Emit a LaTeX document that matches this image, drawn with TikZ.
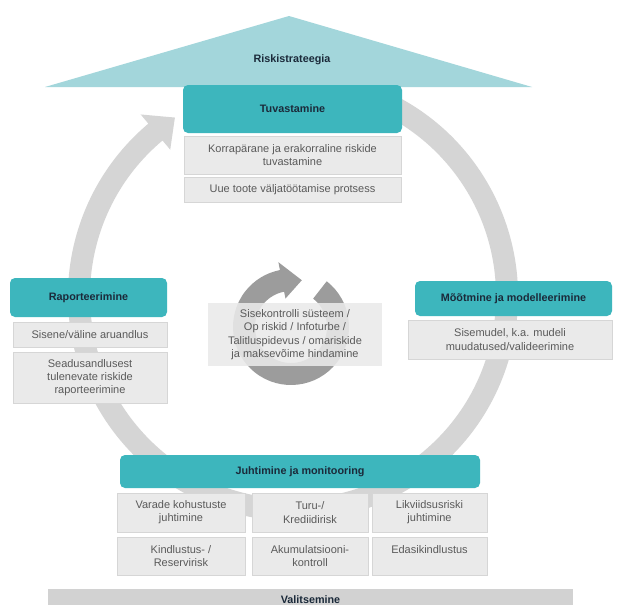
\documentclass[tikz,border=0pt]{standalone}
\usepackage{fontspec}
\setmainfont{Liberation Sans}
\usetikzlibrary{calc}
\definecolor{tealbox}{HTML}{3DB6BD}
\definecolor{tealtri}{HTML}{A3D6DB}
\definecolor{titletext}{HTML}{1B2A3A}
\definecolor{subtext}{HTML}{5A5A5A}
\definecolor{subfill}{HTML}{EAEAEA}
\definecolor{subline}{HTML}{D6D6D6}
\definecolor{arcgray}{HTML}{D5D5D5}
\definecolor{icongray}{HTML}{9C9C9C}
\definecolor{govfill}{HTML}{D2D2D2}
\begin{document}
\begin{tikzpicture}[x=1pt,y=-1pt,
  titlebox/.style={fill=tealbox, rounded corners=5pt, inner sep=0pt, text=titletext,
    font=\fontsize{10.8}{12}\selectfont\bfseries, align=center},
  subbox/.style={fill=subfill, draw=subline, line width=0.4pt, inner sep=0pt, text=subtext,
    font=\fontsize{11}{13.2}\selectfont, align=center}]
\useasboundingbox (0,0) rectangle (619,605);
\fill[white] (0,0) rectangle (619,605);

% big cycle arrow
\coordinate (C) at (293,296);
\fill[arcgray] ($(C)+(-70:225)$) arc[start angle=-70,end angle=230,radius=225]
  -- ($(C)+(230:237)$) -- ($(C)+(236.5:214)$) -- ($(C)+(230:191)$)
  -- ($(C)+(230:203)$) arc[start angle=230,end angle=-70,radius=203] -- cycle;

% roof
\coordinate (apex) at (289,16);
\coordinate (bl) at (45,87);
\coordinate (br) at (532,87);
\fill[tealtri] (bl) -- (apex) -- (br) -- cycle;
\node[text=titletext, font=\fontsize{10.8}{12}\selectfont\bfseries] (roof) at (292,60) {Riskistrateegia};

% top: Tuvastamine
\node[titlebox, minimum width=219, minimum height=48] (tuv) at (292.5,109) {Tuvastamine};
\node[subbox, minimum width=217, minimum height=38] (tuv1) at (292.5,155) {Korrapärane ja erakorraline riskide\\tuvastamine};
\node[subbox, minimum width=217, minimum height=25] (tuv2) at (292.5,189.5) {Uue toote väljatöötamise protsess};

% left: Raporteerimine
\node[titlebox, minimum width=157, minimum height=39] (rap) at (88.5,297.5) {Raporteerimine};
\node[subbox, minimum width=154, minimum height=25] (rap1) at (90,334.5) {Sisene/väline aruandlus};
\node[subbox, minimum width=154, minimum height=51] (rap2) at (90,377.5) {Seadusandlusest\\tulenevate riskide\\raporteerimine};

% right: Mõõtmine
\node[titlebox, minimum width=197, minimum height=35] (mod) at (513.5,298.5) {Mõõtmine ja modelleerimine};
\node[subbox, minimum width=204, minimum height=39] (mod1) at (510,339.5) {Sisemudel, k.a. mudeli\\muudatused/valideerimine};

% centre icon
\coordinate (I) at (291,327);
\fill[icongray] ($(I)+(-52:58)$) arc[start angle=-52,end angle=259,radius=58]
  -- ($(I)+(259:66)$) -- ($(I)+(283:48)$) -- ($(I)+(259:29)$)
  -- ($(I)+(259:36)$) arc[start angle=259,end angle=-52,radius=36] -- cycle;
\node[fill=subfill, fill opacity=0.88, text opacity=1, text=subtext, inner sep=0pt,
  minimum width=174, minimum height=63, font=\fontsize{11}{13.5}\selectfont, align=center]
  (ctr) at (295,334.5) {Sisekontrolli süsteem /\\Op riskid / Infoturbe /\\Talitluspidevus / omariskide\\ja maksevõime hindamine};

% bottom: Juhtimine ja monitooring
\node[titlebox, minimum width=360, minimum height=33] (juh) at (300,471.5) {Juhtimine ja monitooring};
\node[subbox, minimum width=128, minimum height=39] (g11) at (181,512.5) {Varade kohustuste\\juhtimine};
\node[subbox, minimum width=116, minimum height=39] (g12) at (310,512.5) {Turu-/\\Krediidirisk};
\node[subbox, minimum width=115, minimum height=39] (g13) at (429.5,512.5) {Likviidsusriski\\juhtimine};
\node[subbox, minimum width=128, minimum height=38] (g21) at (181,556) {Kindlustus- /\\Reservirisk};
\node[subbox, minimum width=116, minimum height=38] (g22) at (310,556) {Akumulatsiooni-\\kontroll};
\node[subbox, minimum width=115, minimum height=38] (g23) at (429.5,556) {Edasikindlustus\\\mbox{}};

% governance bar
\fill[govfill] (48,589) rectangle (573,612);
\node[text=titletext, font=\fontsize{10.8}{12}\selectfont\bfseries] (gov) at (310.5,600) {Valitsemine};
\end{tikzpicture}
\end{document}
